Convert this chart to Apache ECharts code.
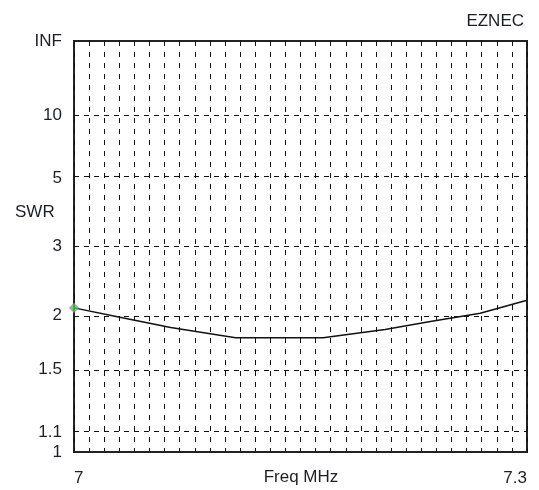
<!DOCTYPE html>
<html>
<head>
<meta charset="utf-8">
<script src="https://cdn.jsdelivr.net/npm/echarts@6/dist/echarts.min.js"></script>
<style>
html,body{margin:0;padding:0;background:#fff;}
#chart{width:539px;height:490px;}
</style>
</head>
<body>
<div id="chart"></div>
<script>
// Frequency (MHz) and SWR values
var freqMHz = [7.000, 7.032, 7.064, 7.107, 7.165, 7.206, 7.236, 7.269, 7.300];
var swrValues = [2.08, 1.97, 1.87, 1.77, 1.77, 1.85, 1.93, 2.02, 2.17];
// SWR tick values and labels (INF = top of scale)
var swrTickValues = [Infinity, 10, 5, 3, 2, 1.5, 1.1, 1];
var swrTickLabels = ['INF', '10', '5', '3', '2', '1.5', '1.1', '1'];
var swrGridValues = [10, 5, 3, 2, 1.5, 1.1];
var xMin = 7, xMax = 7.3, xStep = 0.01;

// EZNEC SWR scale: plotted against reflection coefficient |Γ| = (SWR-1)/(SWR+1)
function gamma(s) { return s === Infinity ? 1 : (s - 1) / (s + 1); }

var tickGamma = swrTickValues.map(gamma);
var lineData = freqMHz.map(function (f, i) { return [f, gamma(swrValues[i])]; });

var FONT = 'Liberation Sans, Arial, sans-serif';
var TXT = '#1e1e28';
var FS = 17;

var chart = echarts.init(document.getElementById('chart'), null, {renderer: 'canvas'});
chart.setOption({
  animation: false,
  backgroundColor: '#fff',
  grid: {left: 74, right: 12, top: 41, bottom: 38, containLabel: false, outerBoundsMode: 'none',
         show: true, borderColor: '#222', borderWidth: 2, backgroundColor: 'transparent'},
  xAxis: {
    type: 'value', min: xMin, max: xMax, interval: xStep,
    axisLine: {show: false}, axisTick: {show: false},
    axisLabel: {
      interval: 0, showMinLabel: true, showMaxLabel: true, hideOverlap: false,
      alignMinLabel: 'left', alignMaxLabel: 'right',
      margin: 18, fontFamily: FONT, fontSize: FS, color: TXT,
      formatter: function (v) {
        if (Math.abs(v - xMin) < 1e-6) return '7';
        if (Math.abs(v - xMax) < 1e-6) return '7.3';
        return '';
      }
    },
    splitLine: {show: true, lineStyle: {color: '#111', width: 1, type: [5, 6]}}
  },
  yAxis: {
    type: 'value', min: 0, max: 1,
    axisLine: {show: false}, axisTick: {show: false},
    axisLabel: {
      customValues: tickGamma, margin: 12, fontFamily: FONT, fontSize: FS, color: TXT,
      formatter: function (v) {
        for (var i = 0; i < tickGamma.length; i++) {
          if (Math.abs(v - tickGamma[i]) < 1e-6) return swrTickLabels[i];
        }
        return '';
      }
    },
    splitLine: {show: false}
  },
  graphic: [
    {type: 'text', left: 15, top: 204, style: {text: 'SWR', fontFamily: FONT, fontSize: FS, fill: TXT}},
    {type: 'text', right: 15, top: 13, style: {text: 'EZNEC', fontFamily: FONT, fontSize: FS, fill: TXT}},
    {type: 'text', x: 301, y: 469, style: {text: 'Freq MHz', align: 'center', fontFamily: FONT, fontSize: FS, fill: TXT}}
  ],
  series: [
    {
      type: 'line', data: lineData, symbol: 'none', smooth: false,
      lineStyle: {color: '#111', width: 1.5},
      markLine: {
        silent: true, symbol: 'none', label: {show: false},
        lineStyle: {color: '#111', width: 1, type: [5, 5]},
        data: swrGridValues.map(function (s) { return {yAxis: gamma(s)}; })
      },
      z: 3
    },
    {
      type: 'scatter', data: [lineData[0]], symbol: 'diamond', symbolSize: 9,
      itemStyle: {color: '#33dd33', borderColor: '#ff33ff', borderWidth: 1},
      z: 4
    }
  ]
});
</script>
</body>
</html>
